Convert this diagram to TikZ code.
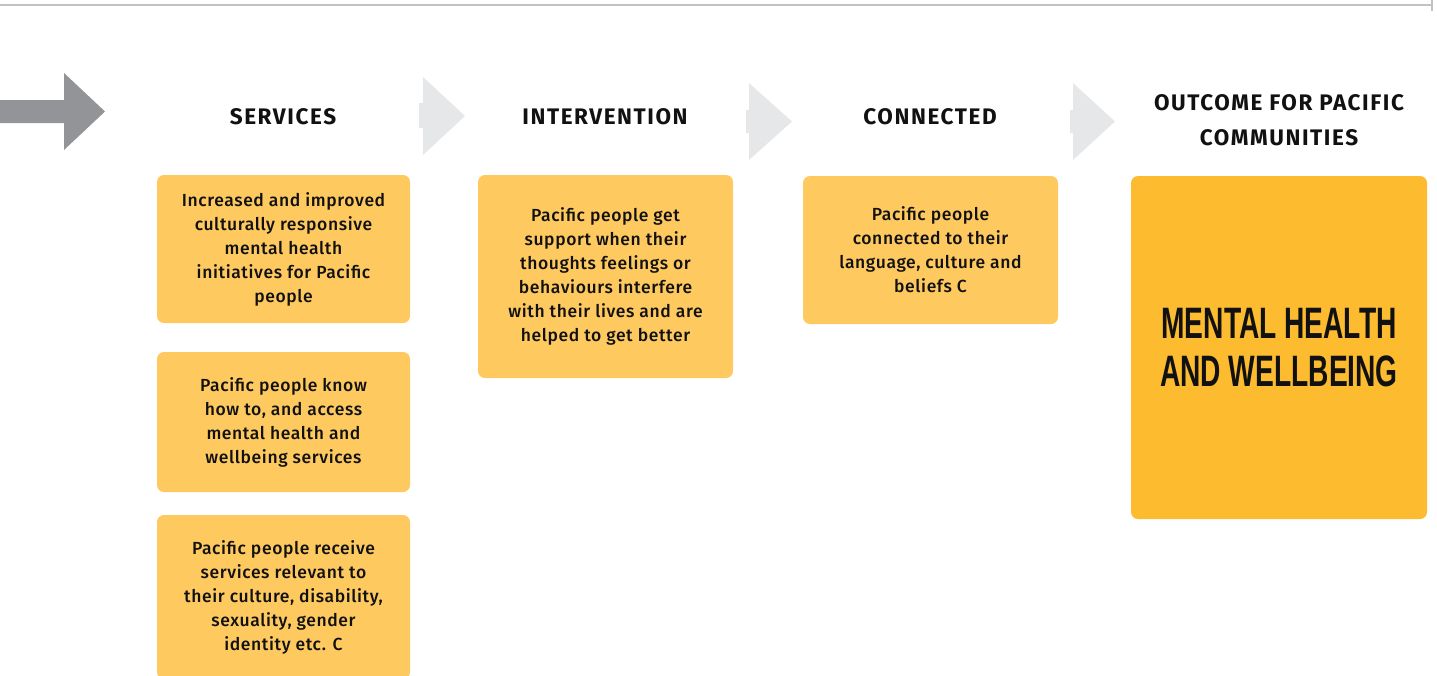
\documentclass[tikz,border=0pt]{standalone}
\usepackage{fontspec}
\setmainfont{Fira Sans Medium}[LetterSpace=3.5]
\newfontfamily\hdrfont{Fira Sans}[LetterSpace=7]
\newfontfamily\bigfont{Liberation Sans}
\definecolor{boxfill}{HTML}{FEC95F}
\definecolor{outfill}{HTML}{FDBB30}
\definecolor{darkarrow}{HTML}{929497}
\definecolor{lightarrow}{HTML}{E6E7E8}
\definecolor{rulegray}{HTML}{C2C2C2}
\definecolor{txt}{HTML}{111111}
\tikzset{
  box/.style={rectangle, rounded corners=7pt, fill=boxfill, inner sep=0pt, align=center,
    text=txt, font=\fontsize{17.5}{24}\selectfont},
  hdr/.style={inner sep=0pt, align=center, text=txt, font=\hdrfont\bfseries\fontsize{22.5}{35}\selectfont},
}
\begin{document}
\begin{tikzpicture}[x=1pt,y=-1pt]
\useasboundingbox (0,0) rectangle (1437,675);
% top rule
\draw[rulegray, line width=2.2pt] (0,5) -- (1432,5);
\draw[rulegray, line width=2.2pt] (1432,0) -- (1432,11);
% big dark arrow
\fill[darkarrow] (0,100) -- (64,100) -- (64,73) -- (105,111.5) -- (64,150) -- (64,123) -- (0,123) -- cycle;
% light arrows
\fill[lightarrow] (419,103) -- (423,103) -- (423,77) -- (465,116) -- (423,155) -- (423,128) -- (419,128) -- cycle;
\fill[lightarrow] (746,110) -- (749,110) -- (749,83) -- (792,121.5) -- (749,160) -- (749,133) -- (746,133) -- cycle;
\fill[lightarrow] (1070,110) -- (1073,110) -- (1073,83) -- (1115,121.5) -- (1073,160) -- (1073,133) -- (1070,133) -- cycle;
% headers
\node[hdr] (hs) at (283,117) {SERVICES};
\node[hdr] (hi) at (605,117) {INTERVENTION};
\node[hdr] (hc) at (930,117) {CONNECTED};
\node[hdr] (ho) at (1279,120.5) {OUTCOME FOR PACIFIC\\COMMUNITIES};
% boxes
\node[box, minimum width=253pt, minimum height=148pt] (s1) at (283.5,249)
  {Increased and improved\\culturally responsive\\mental health\\initiatives for Pacific\\people};
\node[box, minimum width=253pt, minimum height=140pt] (s2) at (283.5,422)
  {Pacific people know\\how to, and access\\mental health and\\wellbeing services};
\node[box, minimum width=253pt, minimum height=164pt] (s3) at (283.5,597)
  {Pacific people receive\\services relevant to\\their culture, disability,\\sexuality, gender\\identity etc. C};
\node[box, minimum width=255pt, minimum height=203pt] (iv) at (605.5,276.5)
  {Pacific people get\\support when their\\thoughts feelings or\\behaviours interfere\\with their lives and are\\helped to get better};
\node[box, minimum width=255pt, minimum height=148pt] (cn) at (930.5,250)
  {Pacific people\\connected to their\\language, culture and\\beliefs C};
\node[box, fill=outfill, minimum width=296pt, minimum height=343pt,
  font=\bigfont\bfseries\fontsize{44}{48}\selectfont] (out) at (1279,347.5)
  {\scalebox{0.64}[1]{MENTAL HEALTH}\\\scalebox{0.64}[1]{AND WELLBEING}};
\end{tikzpicture}
\end{document}
